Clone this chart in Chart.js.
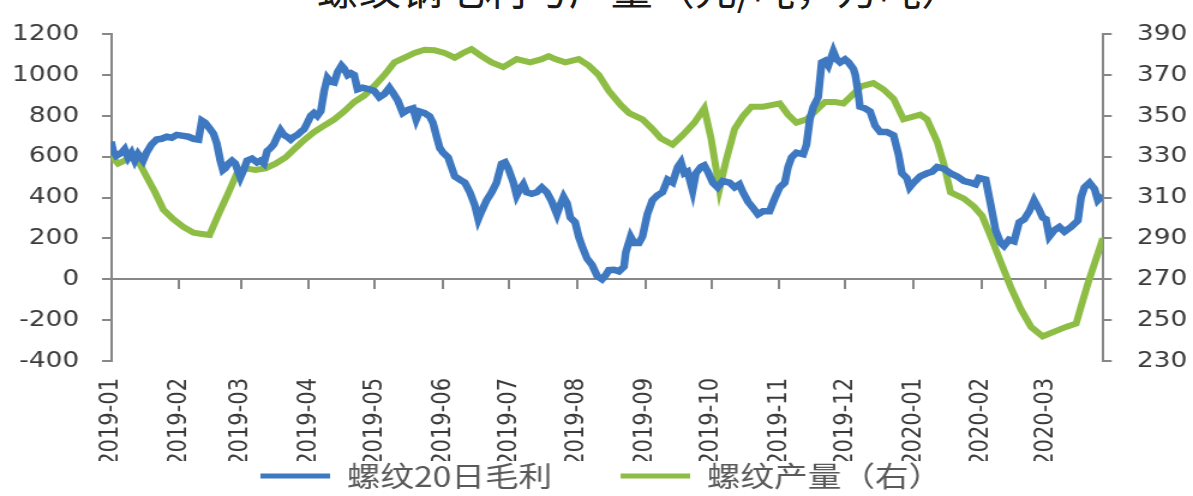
<!DOCTYPE html>
<html>
<head>
<meta charset="utf-8">
<script src="https://cdn.jsdelivr.net/npm/chart.js@4.4.1/dist/chart.umd.min.js"></script>
<style>
  html, body { margin: 0; padding: 0; background: #fff; overflow: hidden; }
  #wrap { position: relative; width: 1193px; height: 496px; overflow: hidden; }
  #title {
    position: absolute; left: 0; top: -34px; width: 1280px; text-align: center;
    font-family: "Noto Sans CJK SC"; font-size: 42px; line-height: 42px;
    color: #1a1a1a; white-space: nowrap;
  }
  #myChart { position: absolute; left: 0; top: 0; }
</style>
</head>
<body>
<div id="wrap">
  <div id="title">螺纹钢毛利与产量（元/吨，万吨）</div>
  <!-- drawn at 994px wide and stretched to 1193px, like the source picture -->
  <canvas id="myChart" width="994" height="496" style="width:1193px;height:496px"></canvas>
</div>
<script>
// month tick labels on the date axis
const monthLabels = [
  "2019-01", "2019-02", "2019-03", "2019-04", "2019-05", "2019-06", "2019-07", "2019-08",
  "2019-09", "2019-10", "2019-11", "2019-12", "2020-01", "2020-02", "2020-03",
];

// 螺纹20日毛利 (left axis), x = days since 2019-01-01
const profitDays = [
  0, 1, 2.4, 4.7, 6.2, 7.8, 9.3, 10.8, 12.3, 14.6, 16.1, 18.4, 20.7, 23, 25.3, 27.6, 29.9,
  32.9, 35.2, 37.5, 39.8, 41.3, 42.8, 45.1, 46.6, 48.1, 49.7, 50.9, 52, 53.5, 55, 56.5, 58,
  58.8, 60.3, 61.9, 64.1, 66.4, 67.9, 69.5, 71, 72.5, 74, 75.6, 77.1, 78.6, 80.1, 81.7, 83.2,
  84.7, 86.2, 87.8, 89.3, 90.8, 92.3, 93.8, 95.4, 96.9, 98.4, 99.9, 101.5, 103, 104.8, 106,
  107.6, 109.1, 110.6, 112.1, 114.4, 117.5, 119.7, 122, 124.3, 126.6, 128.1, 130.4, 132.7,
  135, 137.3, 138.8, 140.3, 142.6, 144.9, 146.4, 147.9, 149.5, 151, 153.3, 154.8, 156.3,
  158.6, 160.9, 163.2, 165.4, 167, 168.5, 170.8, 173.1, 175.3, 177.6, 179.2, 180.7, 183,
  184.5, 186, 187.5, 189, 191.3, 193.6, 195.9, 198.2, 200.5, 202.8, 204.3, 205.8, 207.4,
  208.9, 211.1, 212.7, 214.2, 216.5, 218.8, 221.1, 223.3, 224.9, 226.4, 228.7, 231, 233.3,
  234.1, 236.3, 237.9, 240.1, 241.7, 243.9, 246.2, 248.5, 250.8, 253.1, 255.4, 257.7, 259.2,
  260.7, 262.2, 264.5, 266, 268.3, 269.8, 271.4, 273.7, 275.9, 278.2, 281.3, 283.6, 285.8,
  287.4, 289.7, 292, 294.2, 296.5, 299.5, 301.8, 304.1, 306.4, 307.9, 309.5, 311.7, 314.8,
  316.3, 317.8, 319.4, 321.6, 323.2, 324.7, 326.2, 328.5, 330, 331.6, 333.8, 335.4, 337.6,
  338.5, 339.9, 340.6, 342.9, 345.2, 347.5, 349.8, 352.8, 355.9, 358.1, 359.7, 361.9, 363.2,
  365, 368, 371.1, 373.4, 375.7, 378.7, 381.8, 384.8, 387.9, 390.9, 393.2, 394.7, 397.8,
  400.1, 402.3, 404.6, 406.1, 408.4, 410.7, 413, 415.3, 417.6, 419.8, 422.1, 423.7, 425.2,
  426.7, 429, 431.3, 433.6, 436.6, 439.7, 441.2, 442.7, 445, 447.3, 448.8, 451.1,
];
const profitValues = [
  674, 628, 605, 619, 637, 595, 619, 581, 614, 581, 619, 660, 684, 688, 698, 693, 707,
  702, 698, 688, 684, 777, 767, 735, 712, 665, 581, 535, 544, 567, 581, 567, 521,
  498, 535, 581, 591, 572, 581, 567, 628, 642, 660, 698, 730, 707, 698, 684, 698,
  707, 721, 735, 767, 800, 814, 800, 823, 921, 986, 967, 963, 1014, 1046, 1032,
  1000, 1009, 1000, 930, 938, 930, 922, 891, 907, 938, 915, 876, 814,
  829, 837, 783, 822, 814, 798, 767, 705, 643, 620, 597, 550, 504,
  488, 473, 426, 364, 294, 333, 387, 426, 473, 566, 573, 542, 473,
  411, 442, 465, 426, 419, 426, 450, 426, 380, 318, 364, 403, 372,
  302, 279, 209, 163, 101, 70, 16, 0, 20, 45, 47, 39, 62,
  132, 209, 178, 178, 209, 318, 387, 411, 426, 488, 473, 550, 573,
  519, 527, 434, 519, 550, 558, 527, 473, 450, 481, 473, 450, 465,
  426, 380, 349, 318, 333, 333, 395, 450, 473, 550, 597, 620, 612,
  659, 783, 845, 891, 1062, 1070, 1046, 1116, 1077, 1062, 1077, 1062, 1031,
  1000, 907, 845, 837, 822, 752, 721, 721, 705, 612, 519, 496, 450,
  473, 504, 519, 527, 550, 542, 519, 504, 481, 473, 465, 496, 488,
  364, 240, 178, 163, 194, 186, 279, 294, 333, 387, 341, 302, 294,
  209, 240, 256, 233, 256, 287, 403, 450, 473, 442, 387, 411,
];

// 螺纹产量（右） (right axis), weekly
const outputDays = [
  0, 3.2, 6.2, 9.3, 12.3, 16.1, 20, 23.8, 28.3, 32.9, 37.5, 41.3, 44.8, 48.9, 53.5, 57.3,
  61.1, 65.7, 70.2, 74.8, 79.4, 83.9, 87.8, 92.3, 96.9, 101.5, 106, 110.6, 115.2, 119.7,
  124.3, 128.9, 133.5, 138, 142.6, 147.2, 151.7, 156.3, 160.1, 163.9, 168.5, 173.1, 178.4,
  184.5, 190.6, 195.9, 199, 202, 206.6, 212.7, 217.2, 221.8, 226.4, 231.8, 235.6, 241.7,
  246.2, 250, 255.4, 260, 265.3, 269.8, 272.9, 276.7, 279.7, 283.6, 287.4, 291.2, 296.5,
  300.3, 304.1, 307.9, 311.7, 316.3, 320.1, 324.7, 329.3, 333.1, 337.6, 341.4, 346.7,
  351.3, 355.9, 360.4, 368, 371.1, 375.7, 378.7, 381.8, 387.9, 392.4, 396.2, 400.1, 404.6,
  409.2, 413.8, 418.4, 423.7, 429, 434.3, 438.9, 441.2, 444.2, 448, 451.1,
];
const outputValues = [
  330.5, 326.6, 328.1, 330.5, 328.1, 320.4, 312.6, 304.1, 299.4, 295.6, 292.8, 292.2, 291.7, 301.8, 312.6, 322,
  324.3, 323.5, 324.3, 326.6, 329.7, 334.3, 338.2, 342.1, 345.2, 348.3, 352.2, 356.8, 360, 364.6,
  370, 376.2, 378.5, 380.8, 382.4, 382.1, 380.8, 378.5, 380.8, 382.7, 379.3, 376.2, 373.9,
  377.8, 376.2, 377.8, 379.3, 377.8, 376.2, 377.8, 374.7, 370, 362.2, 355.3, 351.4, 348.3,
  343.6, 339, 335.9, 340.6, 346.7, 353.7, 339, 314.2, 328.1, 343.6, 349.9, 354.5, 354.5,
  355.3, 356.1, 350.6, 346.7, 348.3, 352.2, 356.8, 356.8, 356.1, 360.7, 364.6, 366.1,
  363, 358.4, 348.3, 350.6, 348.3, 337.4, 326.6, 312.6, 309.5, 305.7, 301, 290.9, 278.5,
  266.1, 255.3, 246.7, 242.1, 244.4, 246.7, 248.3, 256.8, 267.7, 280.1, 290.1,
];

const blue = "#3d78c1";
const green = "#8ebd45";
const axisColor = "#878787";
const textColor = "#3a3a3a";

// month starts as day offsets, taken from the labels
const dayOf = (label) =>
  (Date.UTC(+label.slice(0, 4), +label.slice(5, 7) - 1, 1) - Date.UTC(2019, 0, 1)) / 864e5;
const monthStarts = monthLabels.map(dayOf);
const lastDay = 451;

const setMonthTicks = (scale) => {
  scale.ticks = monthStarts.map((v) => ({ value: v }));
};

Chart.defaults.font.family = "'DejaVu Sans'";
Chart.defaults.color = textColor;

const ctx = document.getElementById("myChart");
new Chart(ctx, {
  type: "line",
  data: {
    datasets: [
      {
        // two ideographic spaces keep the gap between the legend entries
        label: "螺纹20日毛利\u3000\u3000",
        data: profitDays.map((d, i) => ({ x: d, y: profitValues[i] })),
        borderColor: blue,
        backgroundColor: blue,
        borderWidth: 6.5,
        pointRadius: 0,
        tension: 0,
        xAxisID: "x",
        yAxisID: "y",
      },
      {
        label: "螺纹产量（右）",
        data: outputDays.map((d, i) => ({ x: d, y: outputValues[i] })),
        borderColor: green,
        backgroundColor: green,
        borderWidth: 6,
        pointRadius: 0,
        tension: 0,
        xAxisID: "x",
        yAxisID: "y1",
      },
    ],
  },
  options: {
    responsive: false,
    animation: false,
    devicePixelRatio: 1,
    layout: { padding: { left: 8, right: 0, top: 18, bottom: -4 } },
    plugins: {
      tooltip: { enabled: false },
      legend: {
        position: "bottom",
        labels: {
          boxWidth: 58,
          boxHeight: 5,
          padding: 1,
          color: "#595959",
          font: { family: "'Noto Sans CJK SC'", size: 28 },
          generateLabels: (chart) =>
            Chart.defaults.plugins.legend.labels
              .generateLabels(chart)
              .map((l) => ({ ...l, fillStyle: l.strokeStyle, lineWidth: 0 })),
        },
      },
    },
    scales: {
      // axis line with month tick marks, sitting at 0 on the left axis
      x: {
        type: "linear",
        position: { y: 0 },
        min: 0,
        max: lastDay,
        afterBuildTicks: setMonthTicks,
        ticks: { display: false },
        grid: { drawOnChartArea: false, tickLength: 9, color: axisColor, lineWidth: 2 },
        border: { color: axisColor, width: 2 },
      },
      // month labels at the bottom
      x2: {
        type: "linear",
        position: "bottom",
        min: 0,
        max: lastDay,
        afterBuildTicks: setMonthTicks,
        afterFit: (scale) => {
          scale.height = 100;
        },
        ticks: {
          autoSkip: false,
          minRotation: 90,
          maxRotation: 90,
          padding: 9,
          font: { size: 21 },
          callback: (value, index) => monthLabels[index],
        },
        grid: { display: false },
        border: { display: false },
      },
      y: {
        position: "left",
        min: -400,
        max: 1200,
        afterFit: (scale) => {
          scale.width = 84.5;
        },
        ticks: { stepSize: 200, padding: 19, font: { size: 22 }, callback: (v) => String(v) },
        grid: { drawOnChartArea: false, tickLength: 7.5, color: axisColor, lineWidth: 2 },
        border: { color: axisColor, width: 2 },
      },
      y1: {
        position: "right",
        min: 230,
        max: 390,
        afterFit: (scale) => {
          scale.width = 75.25;
        },
        ticks: { stepSize: 20, padding: 21, font: { size: 22 }, callback: (v) => String(v) },
        grid: { drawOnChartArea: false, tickLength: 7.5, color: axisColor, lineWidth: 2 },
        border: { color: axisColor, width: 2 },
      },
    },
  },
});
</script>
</body>
</html>
